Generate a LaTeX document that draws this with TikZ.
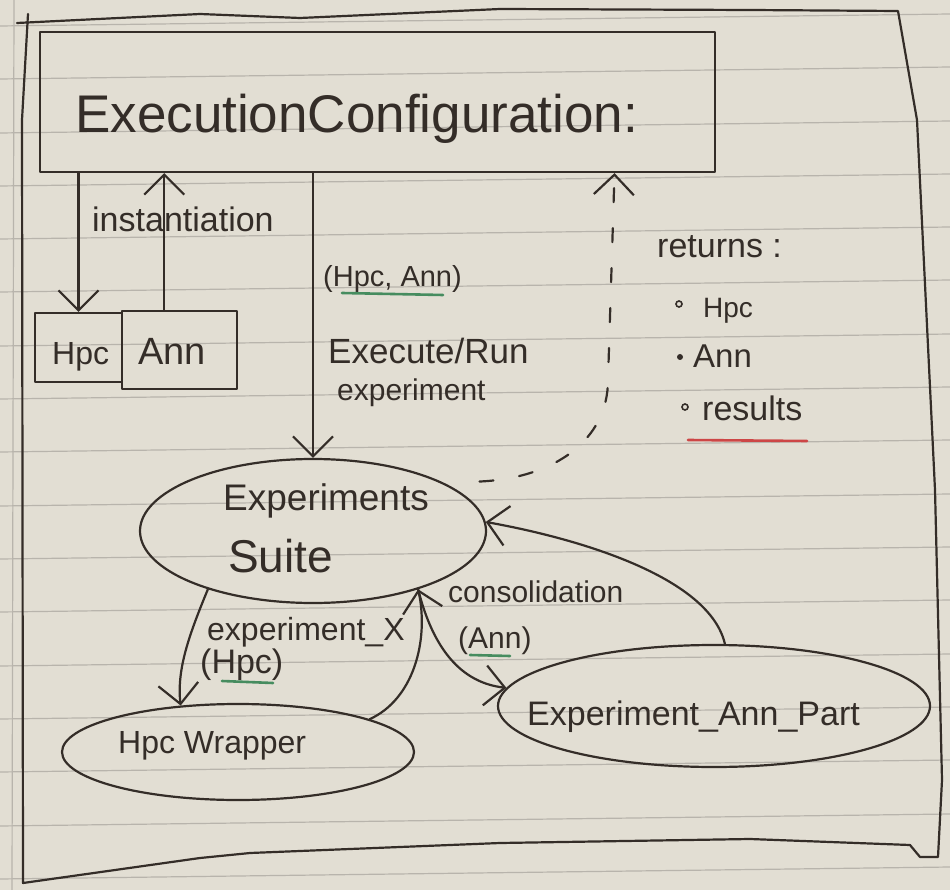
\documentclass[tikz,border=0pt]{standalone}
\usepackage{fontspec}
\setmainfont{Liberation Sans}
\usetikzlibrary{arrows.meta,shapes.geometric,calc}
\definecolor{paper}{RGB}{226,222,211}
\definecolor{ruling}{RGB}{184,180,172}
\definecolor{ink}{RGB}{52,45,40}
\definecolor{penGreen}{RGB}{70,140,95}
\definecolor{penRed}{RGB}{205,70,70}
\newcommand{\hsz}[1]{\fontsize{#1}{#1}\selectfont}
\begin{document}
\begin{tikzpicture}[x=1pt,y=-1pt,
  inkline/.style={draw=ink, line width=2.2pt, line cap=round, line join=round},
  box/.style={inkline, rectangle, inner sep=0pt},
  oval/.style={inkline, ellipse, inner sep=0pt},
  txt/.style={text=ink, inner sep=0pt, anchor=base west},
  arr/.style={inkline, -{Straight Barb[length=20pt,width=40pt]}},
  ret/.style={arr, dash pattern=on 14pt off 26pt},
  uline/.style={line width=2.6pt, line cap=round},
]
\fill[paper] (0,0) rectangle (950,890);
\useasboundingbox (0,0) rectangle (950,890);
% paper ruling
\foreach \yy in {26,79,133,186,239,292,346,399,452,506,559,612,666,719,772,826,879}
  \draw[ruling, line width=1.2pt] (0,\yy) -- (950,\yy-12);
\draw[ruling, line width=1.2pt] (14,0) -- (12,890);
% outer frame
\draw[inkline] (17,23) -- (200,14) -- (300,18) -- (500,9) -- (750,10) -- (898,11)
  -- (917,120) -- (935,490) -- (942,780) -- (938,857) -- (920,857) -- (910,845)
  -- (750,839) -- (500,843) -- (250,853) -- (200,858) -- (23,883) -- (22,120) -- (28,14);

% nodes
\node[box, minimum width=675pt, minimum height=140pt] (cfg) at (377.5,102) {};
\node[txt, font=\hsz{53}] (cfgtxt) at (75,133) {ExecutionConfiguration:};
\node[box, minimum width=87pt, minimum height=69pt] (hpcbox) at (78.5,347.5) {};
\node[box, minimum width=115pt, minimum height=78pt] (annbox) at (179.5,350) {};
\node[txt, font=\hsz{32}] (hpct) at (52,364) {Hpc};
\node[txt, font=\hsz{38}] (annt) at (138,364) {Ann};

\node[oval, minimum width=346pt, minimum height=144pt] (suite) at (313,531) {};
\node[txt, font=\hsz{37}] (suitet1) at (223,510) {Experiments};
\node[txt, font=\hsz{46}] (suitet2) at (228,572) {Suite};
\node[oval, minimum width=352pt, minimum height=96pt] (hpcw) at (238,752) {};
\node[txt, font=\hsz{32}] (hpcwt) at (118,753) {Hpc Wrapper};
\node[oval, minimum width=432pt, minimum height=122pt] (annp) at (714,706) {};
\node[txt, font=\hsz{34}] (annpt) at (527,725) {Experiment\_Ann\_Part};

% labels
\node[txt, font=\hsz{34}] (insttxt) at (92,232) {instantiation};
\node[txt, font=\hsz{29}] (pairt) at (323,287) {(Hpc, Ann)};
\node[txt, font=\hsz{35}] (exect) at (328,363) {Execute/Run};
\node[txt, font=\hsz{30}] (expt) at (337,400) {experiment};
\node[txt, font=\hsz{34}] (rett) at (657,258) {returns :};
\node[txt, font=\hsz{28}] (r1) at (703,318) {Hpc};
\node[txt, font=\hsz{33}] (r2) at (693,367) {Ann};
\node[txt, font=\hsz{34}] (r3) at (702,420) {results};
\node[txt, font=\hsz{32}] (expx) at (207,640) {experiment\_X};
\node[txt, font=\hsz{34}] (hpcl) at (200,673) {(Hpc)};
\node[txt, font=\hsz{30}] (consl) at (448,602) {consolidation};
\node[txt, font=\hsz{30}] (annl) at (458,648) {(Ann)};

% bullets and underlines
\draw[draw=ink, line width=1.6pt] (679,304) circle[radius=3pt];
\fill[ink] (680,357) circle[radius=3pt];
\draw[draw=ink, line width=1.6pt] (685,407) circle[radius=3pt];
\draw[penRed, uline] (688,440) -- (807,441);
\draw[penGreen, uline] (342,293) -- (443,295);
\draw[penGreen, uline] (222,681) -- (273,683);
\draw[penGreen, uline] (470,655) -- (510,656);

% connectors
\draw[arr] (hpcbox.north |- cfg.south) -- (hpcbox.north);
\coordinate (annup) at ($(annbox.north west)!0.37!(annbox.north east)$);
\draw[arr] (annup) -- (annup |- cfg.south);
\draw[arr] (cfg.south -| suite.north) -- (suite.north);
\coordinate (retend) at ($(cfg.south west)!0.85!(cfg.south east)$);
\draw[ret, shorten <=35pt] (suite.20) .. controls +(110,-5) and +(0,60) .. (608,380) -- (retend);
\draw[arr] (suite.209) .. controls +(-19,46) and +(-4,-36) .. (hpcw.141);
\draw[arr] (hpcw.14) .. controls +(44,-20) and +(11,51) .. (suite.331);
\draw[arr] (suite.331) .. controls +(15,60) and +(-45,-5) .. (annp.175);
\draw[arr] (annp.80) .. controls +(-15,-65) and +(100,18) .. (suite.3);
\end{tikzpicture}
\end{document}
